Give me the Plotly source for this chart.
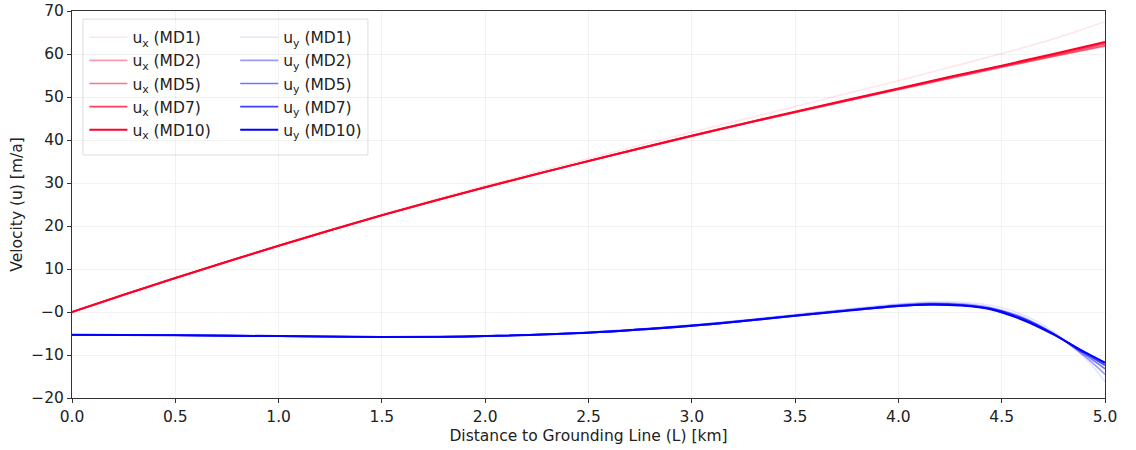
import plotly.graph_objects as go

# ---- data ----
x_ux = [0.0, 0.25, 0.5, 0.75, 1.0, 1.25, 1.5, 1.75, 2.0, 2.25, 2.5, 2.75, 3.0,
        3.25, 3.5, 3.75, 4.0, 4.25, 4.5, 4.75, 5.0]
ux_md1 = [0.0, 4.0, 8.0, 11.8, 15.6, 19.2, 22.7, 26.1, 29.4, 32.6, 35.7, 38.8, 41.8,
          44.8, 47.8, 50.8, 53.8, 56.9, 60.1, 63.5, 67.5]
ux_md2 = [0.0, 4.0, 7.9, 11.7, 15.4, 19.0, 22.5, 25.8, 29.0, 32.1, 35.1, 38.0, 40.9,
          43.7, 46.4, 49.1, 51.7, 54.3, 56.9, 59.4, 61.8]
ux_md5 = [0.0, 4.0, 7.9, 11.7, 15.4, 19.0, 22.5, 25.8, 29.0, 32.1, 35.1, 38.0, 40.9,
          43.7, 46.4, 49.1, 51.8, 54.4, 57.0, 59.5, 62.0]
ux_md7 = [0.0, 4.0, 7.9, 11.7, 15.4, 19.0, 22.5, 25.8, 29.0, 32.1, 35.1, 38.1, 41.0,
          43.8, 46.5, 49.2, 51.9, 54.6, 57.2, 59.8, 62.4]
ux_md10 = [0.0, 4.0, 7.9, 11.7, 15.4, 19.0, 22.5, 25.8, 29.0, 32.1, 35.1, 38.1, 41.0,
           43.8, 46.6, 49.3, 52.0, 54.7, 57.3, 60.0, 62.8]

x_uy = [0.0, 0.5, 1.0, 1.5, 2.0, 2.5, 3.0, 3.25, 3.5, 3.75, 4.0, 4.15, 4.3, 4.45,
        4.6, 4.75, 4.9, 5.0]
uy_md1 = [-5.3, -5.4, -5.6, -5.8, -5.6, -4.7, -3.0, -1.9, -0.6, 0.7, 1.9, 2.4, 2.3, 1.5,
          -0.6, -4.6, -10.5, -16.2]
uy_md2 = [-5.3, -5.4, -5.6, -5.8, -5.6, -4.7, -3.1, -2.0, -0.7, 0.5, 1.7, 2.1, 1.9, 1.0,
          -1.2, -5.0, -10.2, -14.5]
uy_md5 = [-5.3, -5.4, -5.6, -5.8, -5.6, -4.8, -3.1, -2.0, -0.8, 0.4, 1.5, 1.9, 1.7, 0.8,
          -1.4, -5.0, -9.8, -13.2]
uy_md7 = [-5.3, -5.4, -5.6, -5.8, -5.6, -4.8, -3.2, -2.1, -0.9, 0.3, 1.4, 1.8, 1.6, 0.7,
          -1.6, -5.1, -9.5, -12.4]
uy_md10 = [-5.3, -5.4, -5.6, -5.8, -5.6, -4.8, -3.2, -2.1, -0.9, 0.3, 1.4, 1.7, 1.5, 0.6,
           -1.8, -5.2, -9.3, -11.8]

labels = ["MD1", "MD2", "MD5", "MD7", "MD10"]
alphas = [0.1, 0.4, 0.55, 0.75, 1.0]
widths = [1.6, 1.6, 1.6, 1.8, 2.0]

y_tickvals = [-20, -10, 0, 10, 20, 30, 40, 50, 60, 70]
y_ticktext = ["\u221220", "\u221210", "\u22120", "10", "20", "30", "40", "50", "60", "70"]
x_tickvals = [0.0, 0.5, 1.0, 1.5, 2.0, 2.5, 3.0, 3.5, 4.0, 4.5, 5.0]
x_ticktext = ["0.0", "0.5", "1.0", "1.5", "2.0", "2.5", "3.0", "3.5", "4.0", "4.5", "5.0"]

ux_all = [ux_md1, ux_md2, ux_md5, ux_md7, ux_md10]
uy_all = [uy_md1, uy_md2, uy_md5, uy_md7, uy_md10]

fig = go.Figure()
for lab, a, w, ys in zip(labels, alphas, widths, ux_all):
    fig.add_trace(go.Scatter(x=x_ux, y=ys, mode="lines", name=f"u<sub>x</sub> ({lab})",
                             line=dict(color=f"rgba(255,0,40,{a})", width=w, shape="spline"),
                             legend="legend"))
for lab, a, w, ys in zip(labels, alphas, widths, uy_all):
    fig.add_trace(go.Scatter(x=x_uy, y=ys, mode="lines", name=f"u<sub>y</sub> ({lab})",
                             line=dict(color=f"rgba(0,0,255,{a})", width=w, shape="spline"),
                             legend="legend2"))

font = "DejaVu Sans, sans-serif"
fs = 15.5
axis_common = dict(showline=True, linecolor="#333", linewidth=1, mirror=True,
                   ticks="outside", ticklen=4, tickcolor="#333", automargin=False,
                   showgrid=True, gridcolor="rgba(0,0,0,0.05)", zeroline=False,
                   tickfont=dict(family=font, size=fs, color="#222"))

fig.update_layout(
    width=1136, height=450,
    margin=dict(l=72, r=31, t=11, b=52),
    plot_bgcolor="white", paper_bgcolor="white",
    font=dict(family=font, size=fs, color="#222"),
    xaxis=dict(range=[0, 5], tickvals=x_tickvals, ticktext=x_ticktext,
               title=dict(text="Distance to Grounding Line (L) [km]", standoff=5,
                          font=dict(family=font, size=fs, color="#222")),
               **axis_common),
    yaxis=dict(range=[-20, 70], tickvals=y_tickvals, ticktext=y_ticktext,
               title=dict(text="Velocity (u) [m/a]", standoff=4,
                          font=dict(family=font, size=fs, color="#222")),
               **axis_common),
    legend=dict(x=0.012, y=0.975, xanchor="left", yanchor="top", itemwidth=38,
                bgcolor="rgba(0,0,0,0)", borderwidth=0, tracegroupgap=0,
                font=dict(family=font, size=fs, color="#222")),
    legend2=dict(x=0.158, y=0.975, xanchor="left", yanchor="top", itemwidth=38,
                 bgcolor="rgba(0,0,0,0)", borderwidth=0, tracegroupgap=0,
                 font=dict(family=font, size=fs, color="#222")),
    shapes=[dict(type="rect", xref="paper", yref="paper", x0=0.0106, x1=0.2865,
                 y0=0.628, y1=0.979, line=dict(color="#ddd", width=1),
                 fillcolor="rgba(255,255,255,0.8)", layer="below")],
)

fig.write_html("out.html", config={"displayModeBar": False},
               post_script="document.body.style.margin='0';")
